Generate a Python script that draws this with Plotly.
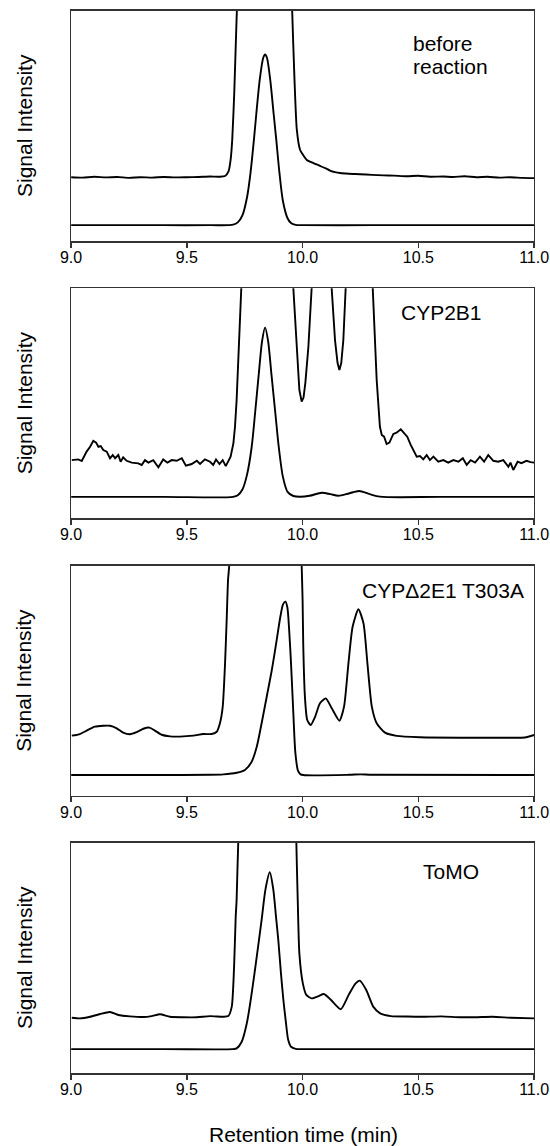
import plotly.graph_objects as go

# ---------------- data ----------------
tick_vals = [9.0, 9.5, 10.0, 10.5, 11.0]
tick_text = ["9.0", "9.5", "10.0", "10.5", "11.0"]
panel_labels = ["before|reaction", "CYP2B1", "CYP\u03942E1 T303A", "ToMO"]

# Panel 1: before reaction
p1_low_x = [9.00, 9.20, 9.40, 9.60, 9.70, 9.72, 9.74, 9.76, 9.775, 9.79, 9.80, 9.815, 9.83, 9.838,
            9.846, 9.86, 9.875, 9.886, 9.90, 9.915, 9.935, 9.95, 9.97, 10.00, 10.30, 10.60, 11.00]
p1_low_y = [7.0, 7.0, 7.0, 7.0, 7.2, 8.2, 11.2, 19.1, 29.7, 44.3, 55.2, 70.2, 79.6, 81.0,
            79.6, 70.2, 55.2, 44.3, 29.7, 17.5, 10.0, 7.9, 7.1, 7.0, 7.0, 7.0, 7.0]
p1_up_x = [9.00, 9.05, 9.10, 9.15, 9.20, 9.25, 9.30, 9.35, 9.40, 9.45, 9.50, 9.55, 9.60, 9.64,
           9.665, 9.68, 9.689, 9.696, 9.705, 9.716, 9.74, 9.84, 9.94, 9.955, 9.965, 9.975, 9.989,
           10.005, 10.018, 10.045, 10.075, 10.10, 10.118, 10.14, 10.162, 10.20, 10.248, 10.30,
           10.35, 10.392, 10.45, 10.50, 10.55, 10.608, 10.65, 10.70, 10.75, 10.80, 10.85, 10.896,
           10.95, 11.00]
p1_up_y = [27.8, 27.6, 28.0, 27.7, 27.9, 27.5, 27.8, 27.6, 27.9, 27.7, 27.8, 27.9, 28.1, 28.0,
           28.3, 30.3, 35.3, 44.0, 65.0, 100.0, 160.0, 200.0, 160.0, 100.0, 70.0, 48.4, 39.7,
           37.0, 35.3, 34.0, 32.7, 31.6, 30.7, 30.0, 29.6, 29.3, 29.1, 28.8,
           28.6, 28.5, 28.2, 28.4, 28.0, 28.1, 27.9, 28.2, 27.8, 28.0, 27.6, 27.8,
           27.5, 27.4]

# Panel 2: CYP2B1
p2_low_x = [9.00, 9.40, 9.70, 9.72, 9.74, 9.76, 9.78, 9.795, 9.81, 9.825, 9.838, 9.851, 9.866,
            9.882, 9.897, 9.915, 9.935, 9.96, 9.99, 10.03, 10.083, 10.12, 10.154, 10.20, 10.244,
            10.29, 10.334, 10.60, 11.00]
p2_low_y = [9.3, 9.3, 9.3, 10.0, 12.5, 19.0, 31.0, 46.0, 62.0, 77.0, 83.0, 77.0, 62.0,
            46.0, 31.0, 18.0, 11.5, 9.7, 9.4, 9.8, 11.1, 10.5, 9.8, 10.8, 11.9,
            10.5, 9.4, 9.3, 9.3]
p2_up_x = [9.003, 9.031, 9.046, 9.067, 9.082, 9.096, 9.108, 9.118, 9.128, 9.139, 9.154, 9.168,
           9.180, 9.190, 9.204, 9.214, 9.225, 9.240, 9.262, 9.290, 9.305, 9.319, 9.334, 9.355,
           9.377, 9.398, 9.416, 9.435, 9.456, 9.478, 9.496, 9.521, 9.543, 9.557, 9.578, 9.600,
           9.614, 9.626, 9.641, 9.655, 9.668, 9.679, 9.689, 9.701, 9.708, 9.715, 9.732, 9.76,
           9.85, 9.94, 9.960, 9.974, 9.986, 9.996, 10.004, 10.012, 10.025, 10.039, 10.07, 10.10,
           10.126, 10.140, 10.151, 10.159, 10.167, 10.176, 10.186, 10.22, 10.27, 10.303, 10.320,
           10.334, 10.342, 10.352, 10.363, 10.375, 10.392, 10.406, 10.424, 10.438, 10.452, 10.467,
           10.478, 10.493, 10.507, 10.521, 10.536, 10.550, 10.565, 10.586, 10.608, 10.629, 10.651,
           10.673, 10.692, 10.709, 10.726, 10.745, 10.766, 10.784, 10.802, 10.824, 10.845, 10.867,
           10.889, 10.898, 10.910, 10.929, 10.945, 10.967, 10.985, 11.000]
p2_up_y = [25.3, 25.6, 24.9, 29.0, 31.1, 33.7, 32.9, 31.1, 31.4, 29.7, 29.0, 26.1,
           27.5, 26.1, 27.5, 24.6, 26.5, 25.0, 24.2, 23.9, 23.2, 25.3, 24.2, 25.3,
           22.2, 25.6, 24.2, 25.3, 25.0, 26.1, 22.9, 23.6, 25.0, 23.6, 25.6, 24.6,
           23.2, 25.6, 23.6, 25.3, 22.7, 24.6, 26.8, 32.6, 39.8, 51.4, 100.0, 160.0,
           220.0, 160.0, 100.0, 74.6, 55.8, 50.7, 52.5, 59.0, 74.6, 100.0, 140.0, 140.0,
           100.0, 77.5, 67.5, 64.5, 67.5, 77.5, 100.0, 150.0, 150.0, 100.0, 60.1,
           39.8, 36.2, 35.5, 32.3, 32.9, 36.7, 37.2, 38.7, 37.2, 35.5, 31.9,
           29.4, 26.8, 27.1, 25.6, 27.5, 25.3, 26.8, 24.6, 25.3, 24.2, 25.3,
           24.6, 26.1, 23.2, 25.3, 24.2, 26.8, 24.6, 27.5, 25.0, 24.6, 25.3,
           22.4, 24.2, 21.0, 24.6, 24.0, 25.0, 24.4, 24.2]

# Panel 3: CYP delta 2E1 T303A
p3_low_x = [9.00, 9.40, 9.60, 9.658, 9.715, 9.751, 9.78, 9.802, 9.823, 9.845, 9.867, 9.888,
            9.905, 9.916, 9.926, 9.934, 9.942, 9.950, 9.960, 9.969, 9.980, 9.99, 10.003, 10.20,
            10.25, 10.30, 11.00]
p3_low_y = [9.1, 9.1, 9.2, 9.4, 10.1, 11.3, 14.9, 21.4, 31.6, 43.1, 54.7, 67.7,
            78.5, 83.3, 84.4, 82.0, 72.0, 57.6, 35.9, 18.5, 11.0, 9.5, 9.1, 9.2,
            9.4, 9.2, 9.1]
p3_up_x = [9.003, 9.038, 9.067, 9.103, 9.139, 9.168, 9.197, 9.225, 9.254, 9.283, 9.312, 9.338,
           9.362, 9.391, 9.427, 9.470, 9.528, 9.571, 9.607, 9.629, 9.643, 9.655, 9.665, 9.672,
           9.678, 9.683, 9.72, 9.85, 9.97, 9.996, 10.000, 10.003, 10.010, 10.020, 10.035, 10.054,
           10.075, 10.100, 10.126, 10.159, 10.179, 10.198, 10.216, 10.241, 10.263, 10.280, 10.299,
           10.320, 10.356, 10.406, 10.507, 10.723, 10.896, 10.96, 11.000]
p3_up_y = [26.2, 26.9, 28.4, 30.1, 30.5, 30.5, 29.4, 27.5, 26.8, 27.7, 29.2, 29.7,
           28.4, 26.6, 25.9, 25.8, 26.2, 26.9, 26.9, 27.9, 31.6, 38.8, 57.6, 76.4,
           94.0, 100.0, 180.0, 250.0, 180.0, 100.0, 85.0, 64.8, 43.1, 33.0, 30.8, 34.4,
           40.3, 42.4, 38.1, 32.7, 38.8, 57.6, 73.5, 81.1, 75.0, 57.6, 38.8,
           31.6, 27.5, 26.1, 25.5, 25.3, 25.3, 25.4, 26.5]

# Panel 4: ToMO
p4_low_x = [9.00, 9.40, 9.70, 9.715, 9.737, 9.759, 9.78, 9.802, 9.823, 9.84, 9.858, 9.873,
            9.885, 9.895, 9.906, 9.917, 9.928, 9.938, 9.95, 9.97, 10.00, 10.50, 11.00]
p4_low_y = [10.5, 10.5, 10.5, 10.8, 13.7, 21.7, 34.7, 50.6, 66.5, 80.0, 87.2, 80.0,
            68.0, 57.8, 44.0, 31.8, 22.0, 14.4, 11.5, 10.6, 10.5, 10.5, 10.5]
p4_up_x = [9.003, 9.038, 9.082, 9.125, 9.168, 9.204, 9.254, 9.312, 9.348, 9.384, 9.427, 9.485,
           9.543, 9.600, 9.658, 9.679, 9.694, 9.704, 9.711, 9.715, 9.722, 9.76, 9.86, 9.96,
           9.973, 9.979, 9.986, 10.001, 10.016, 10.039, 10.069, 10.092, 10.123, 10.165, 10.199,
           10.229, 10.247, 10.275, 10.305, 10.335, 10.381, 10.45, 10.518, 10.60, 10.68, 10.746,
           10.82, 10.90, 11.000]
p4_up_y = [24.1, 23.8, 24.5, 25.7, 26.6, 25.3, 24.7, 24.4, 24.8, 25.6, 24.5, 24.3,
           24.3, 24.8, 24.5, 24.8, 28.9, 46.2, 67.9, 75.2, 100.0, 180.0, 250.0, 180.0,
           100.0, 75.0, 52.0, 39.0, 34.0, 32.5, 33.5, 34.4, 31.8, 27.8, 34.0,
           39.0, 40.2, 36.1, 28.9, 26.0, 24.8, 24.6, 24.5, 24.7, 24.3, 24.3,
           24.5, 24.1, 23.8]

panels = [
    (p1_low_x, p1_low_y, p1_up_x, p1_up_y, "spline"),
    (p2_low_x, p2_low_y, p2_up_x, p2_up_y, "linear"),
    (p3_low_x, p3_low_y, p3_up_x, p3_up_y, "spline"),
    (p4_low_x, p4_low_y, p4_up_x, p4_up_y, "spline"),
]

# ---------------- layout geometry ----------------
W, H = 550, 1146
PLOT_L, PLOT_R = 71.1, 534.1
panel_px = [(10.7, 241.3), (288.3, 518.3), (565.7, 796.0), (842.7, 1073.3)]
label_pos = [None, (441.6, 312.5), (443.3, 590.5), (450.7, 871.0)]

FONT = "Arial, Liberation Sans, Helvetica, sans-serif"
FRAME = "#333333"


def py(px):
    return 1 - px / H


def pxx(px):
    return px / W


fig = go.Figure()
layout = dict(
    template="none",
    width=W, height=H,
    margin=dict(l=0, r=0, t=0, b=0, pad=0, autoexpand=False),
    paper_bgcolor="white", plot_bgcolor="white",
    showlegend=False,
    font=dict(family=FONT, color="black"),
)
annotations = []

for i, (lx, ly, ux, uy, shape) in enumerate(panels):
    n = "" if i == 0 else str(i + 1)
    xa, ya = "x" + n, "y" + n
    top, bot = panel_px[i]
    fig.add_trace(go.Scatter(x=lx, y=ly, mode="lines", xaxis=xa, yaxis=ya,
                             line=dict(color="black", width=1.9, shape="spline", smoothing=0.8),
                             hoverinfo="skip"))
    up_line = dict(color="black", width=1.9, shape=shape)
    if shape == "spline":
        up_line["smoothing"] = 0.6
    fig.add_trace(go.Scatter(x=ux, y=uy, mode="lines", xaxis=xa, yaxis=ya,
                             line=up_line, hoverinfo="skip"))
    layout["xaxis" + n] = dict(
        domain=[pxx(PLOT_L), pxx(PLOT_R)], anchor=ya, range=[9, 11],
        automargin=False, fixedrange=True,
        tickmode="array", tickvals=tick_vals, ticktext=tick_text,
        ticks="outside", ticklen=5, tickwidth=1.3, tickcolor=FRAME,
        ticklabelstandoff=-4,
        showline=True, linecolor=FRAME, linewidth=1.3, mirror=True,
        showgrid=False, zeroline=False,
        tickfont=dict(family=FONT, size=16, color="black"),
    )
    layout["yaxis" + n] = dict(
        domain=[py(bot), py(top)], anchor=xa, range=[0, 100],
        automargin=False, fixedrange=True,
        showticklabels=False, ticks="",
        showline=True, linecolor=FRAME, linewidth=1.3, mirror=True,
        showgrid=False, zeroline=False,
    )
    # y title
    annotations.append(dict(
        text="Signal Intensity", xref="paper", yref="paper",
        x=pxx(24), y=py((top + bot) / 2), xanchor="center", yanchor="middle",
        textangle=-90, showarrow=False, font=dict(family=FONT, size=21, color="black"),
    ))
    # panel label
    if i == 0:
        for txt, cy in zip(panel_labels[0].split("|"), (43.5, 66.5)):
            annotations.append(dict(
                text=txt, xref="paper", yref="paper", x=pxx(411), y=py(cy),
                xanchor="left", yanchor="middle", showarrow=False,
                font=dict(family=FONT, size=21, color="black"),
            ))
    else:
        cx, cy = label_pos[i]
        annotations.append(dict(
            text=panel_labels[i], xref="paper", yref="paper", x=pxx(cx), y=py(cy),
            xanchor="center", yanchor="middle", showarrow=False,
            font=dict(family=FONT, size=21, color="black"),
        ))

annotations.append(dict(
    text="Retention time (min)", xref="paper", yref="paper",
    x=pxx(303), y=py(1134), xanchor="center", yanchor="middle", showarrow=False,
    font=dict(family=FONT, size=21, color="black"),
))
layout["annotations"] = annotations
fig.update_layout(**layout)
fig.write_html("out.html", config={"displayModeBar": False, "staticPlot": True},
               post_script="document.body.style.margin='0';")
